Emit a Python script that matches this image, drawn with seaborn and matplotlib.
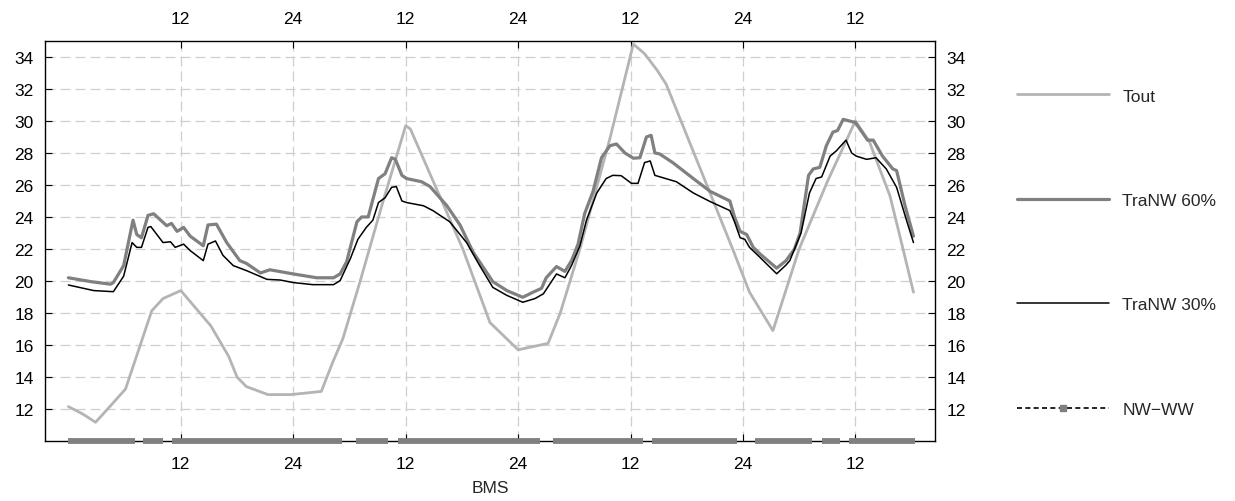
import numpy as np
import pandas as pd
import seaborn as sns
import matplotlib.pyplot as plt
from matplotlib.lines import Line2D

# Outside temperature (vertices), hours from start
tout_h = [0, 1.5, 2.9, 4.5, 6.1, 8.9, 10.1, 12, 15.2, 17.1, 18, 19, 21.3, 23.7,
          25.4, 27, 28.2, 29.3, 31.1, 33.5, 36, 36.5, 42.1, 45, 48, 51.2, 52.5,
          54.6, 57.8, 60.3, 61.5, 62.8, 63.8, 70.9, 72.7, 75.2, 78, 81, 84,
          85.5, 87.7, 89, 90.2]
tout_v = [12.15, 11.7, 11.17, 12.2, 13.25, 18.14, 18.9, 19.4, 17.2, 15.3, 14.0,
          13.4, 12.9, 12.9, 13.0, 13.1, 14.9, 16.4, 19.9, 24.8, 29.7, 29.5, 22.0,
          17.4, 15.7, 16.1, 18.0, 22.0, 28.9, 34.8, 34.2, 33.2, 32.3, 22.0, 19.3,
          16.9, 22.0, 26.2, 30.0, 28.7, 25.3, 22.2, 19.3]

# TraNW 60%
t60_h = [0, 2.5, 4.5, 4.8, 5.9, 6.9, 7.3, 7.8, 8.5, 9.1, 10.5, 11, 11.6, 12.3,
         13, 14.4, 14.9, 15.8, 16.9, 18.3, 19, 20.5, 21.5, 24, 26.5, 28.3, 29,
         29.7, 30.8, 31.3, 32, 33.1, 33.8, 34.5, 34.9, 35.6, 36.1, 37.7, 38.6,
         40.4, 41.8, 43.2, 45.3, 46.8, 48.5, 49.6, 50.5, 51, 52.1, 53, 53.7,
         54.4, 55.1, 56, 56.9, 57.8, 58.5, 59.4, 60.3, 61, 61.7, 62.2, 62.6,
         63.1, 64.5, 66.7, 68.5, 70.6, 71.1, 71.7, 72.4, 73.1, 73.8, 75.6, 76.6,
         77.5, 78.1, 79, 79.5, 80.2, 80.9, 81.6, 82.1, 82.7, 84, 85.3, 85.9,
         86.9, 88, 88.4, 89.3, 90.2]
t60_v = [20.2, 19.95, 19.8, 19.9, 20.96, 23.8, 22.9, 22.7, 24.1, 24.2, 23.45,
         23.6, 23.1, 23.35, 22.8, 22.2, 23.5, 23.55, 22.4, 21.27, 21.1, 20.5,
         20.7, 20.44, 20.2, 20.2, 20.44, 21.2, 23.7, 24.0, 24.0, 26.4, 26.7,
         27.7, 27.6, 26.6, 26.4, 26.2, 25.9, 24.7, 23.5, 21.8, 19.96, 19.4,
         18.98, 19.3, 19.54, 20.2, 20.9, 20.6, 21.27, 22.3, 24.2, 25.6, 27.7,
         28.45, 28.56, 28.0, 27.67, 27.7, 29.0, 29.1, 28.0, 27.94, 27.4, 26.4,
         25.6, 25.0, 24.0, 23.1, 22.9, 22.1, 21.7, 20.8, 21.27, 22.0, 23.0, 26.6,
         27.0, 27.1, 28.45, 29.3, 29.4, 30.1, 29.9, 28.8, 28.8, 27.8, 27.0,
         26.9, 24.7, 22.8]

# TraNW 30%
t30_h = [0, 2.7, 4.8, 5.9, 6.8, 7.3, 7.8, 8.5, 8.8, 10.1, 10.9, 11.4, 12.3, 13,
         14.4, 14.9, 15.7, 16.5, 17.6, 19, 21.2, 22.6, 24, 26.1, 28.3, 29, 30.1,
         30.9, 31.8, 32.5, 33.1, 33.8, 34.5, 35, 35.6, 36.1, 37.9, 38.9, 40.7,
         42.5, 43.9, 45.3, 46.8, 48.5, 49.8, 50.7, 52.1, 53, 53.7, 54.6, 55.3,
         56.4, 57.4, 58.1, 59, 60.1, 60.8, 61.5, 62.1, 62.6, 64.9, 66.7, 68.5,
         70.6, 71.1, 71.7, 72.2, 72.7, 73.6, 75.6, 76.6, 77, 78.2, 79.1, 79.8,
         80.4, 81.3, 82, 82.3, 83, 83.6, 84.1, 85.2, 86.2, 87.3, 88.4, 89.4, 90.2]
t30_v = [19.75, 19.4, 19.33, 20.3, 22.4, 22.1, 22.1, 23.35, 23.4, 22.4, 22.45,
         22.1, 22.3, 21.9, 21.27, 22.3, 22.5, 21.6, 20.96, 20.65, 20.1, 20.06,
         19.9, 19.77, 19.77, 20.02, 21.4, 22.6, 23.35, 23.8, 24.9, 25.2, 25.85,
         25.9, 25.0, 24.9, 24.7, 24.4, 23.7, 22.4, 20.96, 19.6, 19.1, 18.67,
         18.9, 19.2, 20.44, 20.2, 20.96, 22.2, 23.8, 25.5, 26.4, 26.6, 26.58,
         26.1, 26.1, 27.4, 27.5, 26.6, 26.2, 25.5, 24.96, 24.4, 23.7, 22.7, 22.6,
         22.1, 21.6, 20.45, 21.0, 21.27, 23.0, 25.5, 26.4, 26.5, 27.8, 28.15,
         28.35, 28.8, 28.0, 27.8, 27.6, 27.7, 27.0, 25.85, 23.9, 22.4]

# NW-WW periods (start, end in hours)
nw_start = [0, 8.0, 11.1, 30.7, 35.2, 51.7, 62.3, 73.3, 80.4, 83.3]
nw_end = [7.1, 10.1, 29.2, 34.1, 50.3, 61.3, 71.4, 79.4, 82.4, 90.4]

xticks = [12, 24, 36, 48, 60, 72, 84]
xlabels = ['12', '24', '12', '24', '12', '24', '12']
yticks = list(range(12, 35, 2))

sns.set_style('white')
plt.rcParams['font.family'] = ['Liberation Sans', 'DejaVu Sans']

fig = plt.figure(figsize=(12.35, 5.02), dpi=100)
ax = fig.add_axes([0.0364, 0.1195, 0.7207, 0.797])

c_tout = '#b4b4b4'
c_60 = '#808080'
c_30 = '#000000'
fs = 12.5

sns.lineplot(x=tout_h, y=tout_v, ax=ax, color=c_tout, linewidth=2.0,
             sort=False, estimator=None)
sns.lineplot(x=t60_h, y=t60_v, ax=ax, color=c_60, linewidth=2.3,
             sort=False, estimator=None)
sns.lineplot(x=t30_h, y=t30_v, ax=ax, color=c_30, linewidth=1.1,
             sort=False, estimator=None)

# NW-WW indicator bars on the bottom axis
ax.hlines([10] * len(nw_start), nw_start, nw_end, colors=c_60, linewidth=4.2,
          clip_on=False, zorder=5)

ax.set_xlim(-2.5, 92.5)
ax.set_ylim(10, 35)
ax.set_xticks(xticks)
ax.set_xticklabels(xlabels)
ax.set_yticks(yticks)
ax.set_xlabel('BMS', fontsize=fs, labelpad=6)
ax.set_ylabel('')

ax.grid(True, color='#cfcfcf', linestyle=(0, (8, 4)), linewidth=0.9)
for s in ax.spines.values():
    s.set_color('black')
    s.set_linewidth(1.0)

ax.tick_params(axis='x', direction='in', length=5, width=0.8, top=True,
               bottom=True, labeltop=True, labelbottom=True, pad=11,
               labelsize=fs, colors='black')
ax.tick_params(axis='y', direction='in', length=5, width=0.8, left=True,
               right=True, labelleft=True, labelright=True, pad=8,
               labelsize=fs, colors='black')

handles = [
    Line2D([0], [0], color=c_tout, lw=2.0),
    Line2D([0], [0], color=c_60, lw=2.3),
    Line2D([0], [0], color=c_30, lw=1.1),
    Line2D([0], [0], color='black', lw=1.2, linestyle=(0, (3, 2)),
           marker='s', markersize=3.8, markerfacecolor=c_60,
           markeredgecolor=c_60),
]
labels = ['Tout', 'TraNW 60%', 'TraNW 30%', 'NW\u2212WW']
fig.legend(handles, labels, loc='upper left', bbox_to_anchor=(0.811, 0.853),
           frameon=False, fontsize=fs, handlelength=5.3, handletextpad=0.75,
           labelspacing=5.14, numpoints=1)

fig.savefig('out.png', dpi=100)
